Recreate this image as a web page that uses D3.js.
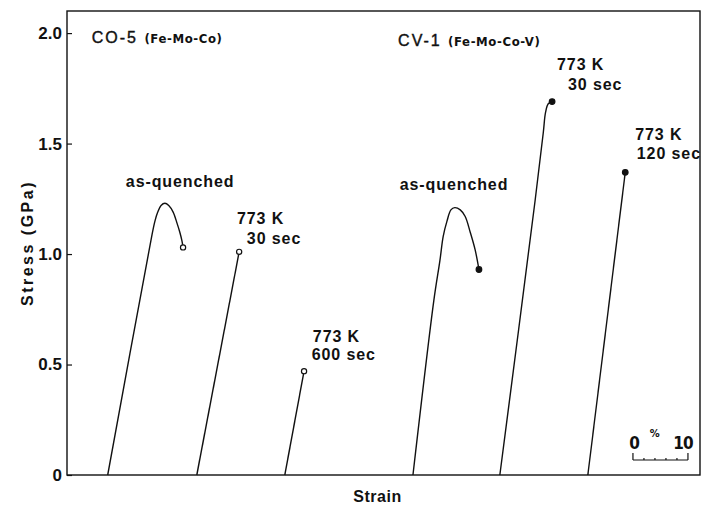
<!DOCTYPE html>
<html>
<head>
<meta charset="utf-8">
<script src="https://cdn.jsdelivr.net/npm/d3@7"></script>
<style>
body { margin: 0; background: #fff; }
text { font-family: "Liberation Sans", Arial, sans-serif; font-weight: bold; fill: #111; }
.alloy { font-family: "DejaVu Sans Condensed", "DejaVu Sans", sans-serif; font-weight: bold; font-size: 13px; letter-spacing: 0.6px; }
</style>
</head>
<body>
<svg id="chart"></svg>
<script>
// stress-strain curves: [strain (%), stress (GPa)]
const coQuenched = [[7.4,0],[15.4,1.08],[16.0,1.15],[16.5,1.19],[17.1,1.22],[17.8,1.23],[18.5,1.22],[19.3,1.19],[20.0,1.14],[20.5,1.10],[20.9,1.06],[21.1,1.03]];
const co30s = [[23.6,0],[31.3,1.01]];
const co600s = [[39.6,0],[43.1,0.47]];
const cvQuenched = [[62.9,0],[66.7,0.79],[67.8,0.97],[68.4,1.08],[69.1,1.15],[69.8,1.20],[70.5,1.21],[71.5,1.20],[72.4,1.17],[73.3,1.10],[74.2,1.02],[74.9,0.93]];
const cv30s = [[78.7,0],[85.1,1.24],[86.6,1.55],[87.0,1.64],[87.5,1.68],[88.2,1.69]];
const cv120s = [[94.7,0],[101.5,1.37]];

const yTicks = [0, 0.5, 1.0, 1.5, 2.0];
const scaleBarStrain = 10; // length of the strain scale bar, %

const curves = [
    {points: coQuenched, open: true},
    {points: co30s, open: true},
    {points: co600s, open: true},
    {points: cvQuenched, open: false},
    {points: cv30s, open: false},
    {points: cv120s, open: false}
];

// annotation text, anchored in data coordinates (left edge, baseline)
const notes = [
    {text: "as-quenched", s: 10.7, y: 1.303},
    {text: "773 K", s: 30.9, y: 1.138},
    {text: "30 sec", s: 32.7, y: 1.047},
    {text: "773 K", s: 44.7, y: 0.604},
    {text: "600 sec", s: 44.5, y: 0.522},
    {text: "as-quenched", s: 60.5, y: 1.29},
    {text: "773 K", s: 89.1, y: 1.835},
    {text: "30 sec", s: 91.1, y: 1.744},
    {text: "773 K", s: 103.3, y: 1.518},
    {text: "120 sec", s: 103.6, y: 1.432}
];
const titles = [
    {name: "CO-5", alloy: "(Fe-Mo-Co)", s: 4.5, y: 1.955},
    {name: "CV-1", alloy: "(Fe-Mo-Co-V)", s: 60.2, y: 1.941}
];

const W = 710, H = 509;
const margin = {top: 11, right: 10, bottom: 34, left: 67};
const width = W - margin.left - margin.right;
const height = H - margin.top - margin.bottom;

const svg = d3.select("#chart").attr("width", W).attr("height", H);
const g = svg.append("g").attr("transform", `translate(${margin.left},${margin.top})`);

const x = d3.scaleLinear().domain([0, width / 5.5]).range([0, width]);
const y = d3.scaleLinear().domain([0, 2.1]).range([height, 0]);

// frame
g.append("rect")
    .attr("width", width).attr("height", height)
    .attr("fill", "none").attr("stroke", "#111").attr("stroke-width", 1.4);

// y axis, ticks pointing inward
const yAxis = d3.axisLeft(y)
    .tickValues(yTicks)
    .tickSizeInner(-5).tickSizeOuter(0)
    .tickPadding(5)
    .tickFormat(d => d === 0 ? "0" : d3.format(".1f")(d));
const yAxisG = g.append("g").call(yAxis);
yAxisG.select(".domain").remove();
yAxisG.selectAll("line").attr("stroke", "#111").attr("stroke-width", 1.2);
yAxisG.selectAll("text")
    .style("font-family", '"Liberation Sans", Arial, sans-serif')
    .style("font-weight", "bold").style("font-size", "17px").attr("fill", "#111");

// axis titles
svg.append("text")
    .attr("transform", `translate(33,${margin.top + y(1.05)}) rotate(-90)`)
    .attr("text-anchor", "middle")
    .style("font-size", "16px").style("letter-spacing", "2.5px")
    .text("Stress  (GPa)");
svg.append("text")
    .attr("x", margin.left + width / 2 - 6).attr("y", 502)
    .attr("text-anchor", "middle")
    .style("font-size", "16px").style("letter-spacing", "0.5px")
    .text("Strain");

// curves
const line = d3.line().x(d => x(d[0])).y(d => y(d[1])).curve(d3.curveCatmullRom);
g.selectAll(".curve").data(curves).join("path")
    .attr("class", "curve")
    .attr("d", d => line(d.points))
    .attr("fill", "none").attr("stroke", "#111").attr("stroke-width", 1.4);

// end-of-test markers
g.selectAll(".end").data(curves).join("circle")
    .attr("class", "end")
    .attr("cx", d => x(d.points[d.points.length - 1][0]))
    .attr("cy", d => y(d.points[d.points.length - 1][1]))
    .attr("r", d => d.open ? 2.6 : 2.8)
    .attr("fill", d => d.open ? "#fff" : "#111")
    .attr("stroke", "#111").attr("stroke-width", 1.2);

// annotations
g.selectAll(".note").data(notes).join("text")
    .attr("class", "note")
    .attr("x", d => x(d.s)).attr("y", d => y(d.y))
    .style("font-size", "16px").style("letter-spacing", "0.9px")
    .text(d => d.text);

const t = g.selectAll(".title").data(titles).join("text")
    .attr("class", "title")
    .attr("x", d => x(d.s)).attr("y", d => y(d.y))
    .style("font-size", "16px").style("letter-spacing", "2px").style("font-weight", "normal")
    .attr("stroke", "#111").attr("stroke-width", 0.4);
t.append("tspan").text(d => d.name + " ");
t.append("tspan").attr("class", "alloy").attr("stroke-width", 0).text(d => d.alloy);

// strain scale bar (0 - 10 %)
const sb0 = 102.9, sbY = 0.068;
const bar = g.append("g");
bar.append("line")
    .attr("x1", x(sb0)).attr("x2", x(sb0 + scaleBarStrain))
    .attr("y1", y(sbY)).attr("y2", y(sbY))
    .attr("stroke", "#111").attr("stroke-width", 1.2);
bar.selectAll(".sbtick").data(d3.range(0, scaleBarStrain + 1, 2)).join("line")
    .attr("x1", d => x(sb0 + d)).attr("x2", d => x(sb0 + d))
    .attr("y1", y(sbY))
    .attr("y2", d => (d === 0 || d === scaleBarStrain) ? y(sbY) - 7 : y(sbY) - 2)
    .attr("stroke", "#111").attr("stroke-width", 1.2);
bar.selectAll(".sblabel").data([0, scaleBarStrain]).join("text")
    .attr("x", d => x(sb0 + (d === 0 ? 0.2 : d - 0.9))).attr("y", y(sbY) - 11)
    .attr("text-anchor", "middle")
    .attr("class", "alloy").style("font-size", "17px").style("letter-spacing", "-1px")
    .text(d => d);
bar.append("text")
    .attr("x", x(sb0 + scaleBarStrain * 0.4)).attr("y", y(sbY) - 23)
    .attr("text-anchor", "middle")
    .attr("class", "alloy").style("font-size", "11px")
    .text("%");
</script>
</body>
</html>
